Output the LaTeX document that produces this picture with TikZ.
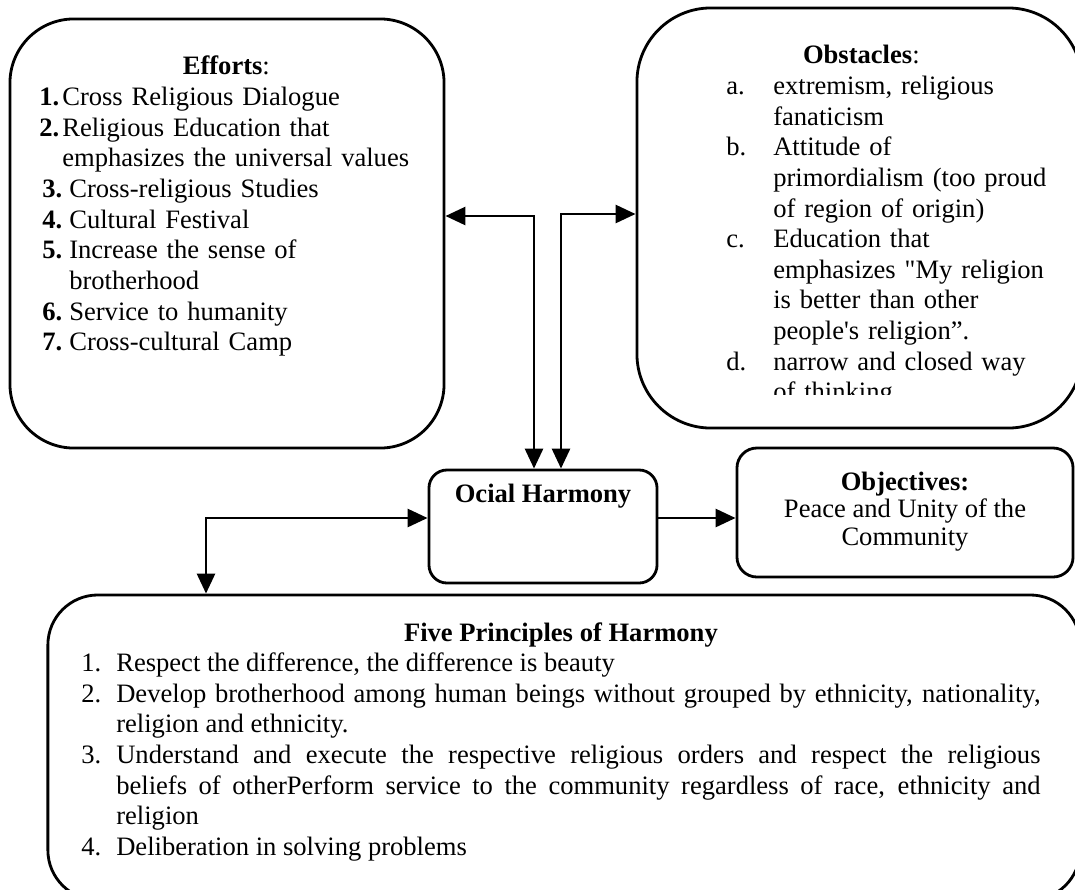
\documentclass[tikz,border=0pt]{standalone}
\usepackage{fontspec}
\setmainfont{Liberation Serif}[Ligatures=TeXOff]
\usetikzlibrary{arrows.meta}

\newcommand{\hitem}[3]{\par\hangindent=#1\hangafter=1\noindent\makebox[#1][l]{#2}#3\par}

\begin{document}
\fontsize{18.9pt}{21.8pt}\selectfont
\begin{tikzpicture}[x=0.025cm, y=-0.025cm,
    box/.style={draw, line width=2pt, inner sep=0pt},
    txt/.style={inner sep=0pt, anchor=north west, align=left},
    arrow/.style={line width=2pt},
    >={Triangle[length=0.5cm, width=0.45cm]}
  ]
  \useasboundingbox (0,0) rectangle (1075,889);
  \clip (0,0) rectangle (1075,889);

  % boxes
  \node[box, rounded corners=1.6cm, minimum width=10.85cm, minimum height=10.725cm] (efforts) at (227,233.5) {};
  \node[box, rounded corners=1.85cm, minimum width=11.125cm, minimum height=10.5cm] (obstacles) at (859.5,218) {};
  \node[box, rounded corners=0.45cm, minimum width=5.7cm, minimum height=2.825cm] (harmony) at (543,526.5) {};
  \node[box, rounded corners=0.5cm, minimum width=8.4cm, minimum height=3.225cm] (objectives) at (905,512.5) {};
  \node[box, rounded corners=1.25cm, minimum width=25.8cm, minimum height=7.625cm] (principles) at (564,747.5) {};

  % texts
  \node[txt, text width=9.35cm] (effortstxt) at (39,56) {
    {\centering\textbf{Efforts}:\par}
    \hitem{0.575cm}{\textbf{1.}}{Cross Religious Dialogue}
    \hitem{0.575cm}{\textbf{2.}}{Religious Education that\newline emphasizes the universal values}
    \hitem{0.75cm}{\hspace{0.075cm}\textbf{3.}}{Cross-religious Studies}
    \hitem{0.75cm}{\hspace{0.075cm}\textbf{4.}}{Cultural Festival}
    \hitem{0.75cm}{\hspace{0.075cm}\textbf{5.}}{Increase the sense of\newline brotherhood}
    \hitem{0.75cm}{\hspace{0.075cm}\textbf{6.}}{Service to humanity}
    \hitem{0.75cm}{\hspace{0.075cm}\textbf{7.}}{Cross-cultural Camp}
  };
  \begin{scope}
    \clip (637,0) rectangle (1075,394);
    \node[txt, text width=9cm] (obstaclestxt) at (726,45) {
      {\centering\textbf{Obstacles}:\hspace*{2.25cm}\par}
      \hitem{1.175cm}{a.}{extremism, religious\newline fanaticism}
      \hitem{1.175cm}{b.}{Attitude of\newline primordialism (too proud\newline of region of origin)}
      \hitem{1.175cm}{c.}{Education that\newline emphasizes "My religion\newline is better than other\newline people's religion”.}
      \hitem{1.175cm}{d.}{narrow and closed way\newline of thinking}
    };
  \end{scope}
  \node[inner sep=0pt, anchor=north, font=\bfseries] (harmonytxt) at (543,484) {Ocial Harmony};
  \node[inner sep=0pt, anchor=north, align=center, font=\fontsize{18.9pt}{19.3pt}\selectfont] (objectivestxt) at (905,472) {\textbf{Objectives:}\\Peace and Unity of the\\Community};
  \node[txt, text width=23.975cm, align=justify] (principlestxt) at (81,622) {
    {\centering\textbf{Five Principles of Harmony}\par}
    \hitem{0.875cm}{1.}{Respect the difference, the difference is beauty}
    \hitem{0.875cm}{2.}{Develop brotherhood among human beings without grouped by ethnicity, nationality, religion and ethnicity.}
    \hitem{0.875cm}{3.}{Understand and execute the respective religious orders and respect the religious\linebreak{} beliefs of otherPerform service to the community regardless of race, ethnicity and\linebreak{} religion}
    \hitem{0.875cm}{4.}{Deliberation in solving problems}
  };

  % connectors
  \coordinate (e1) at (534,216);
  \coordinate (e2) at (561,214);
  \coordinate (e3) at (206,518);
  \coordinate (e4) at (697,518);
  \draw[arrow, <->] (efforts.east |- e1) -- (e1) -- (harmony.north -| e1);
  \draw[arrow, <->] (obstacles.west |- e2) -- (e2) -- (harmony.north -| e2);
  \draw[arrow, <->] (harmony.west |- e3) -- (e3) -- (principles.north -| e3);
  \draw[arrow, ->] (harmony.east |- e4) -- (objectives.west |- e4);
\end{tikzpicture}
\end{document}
